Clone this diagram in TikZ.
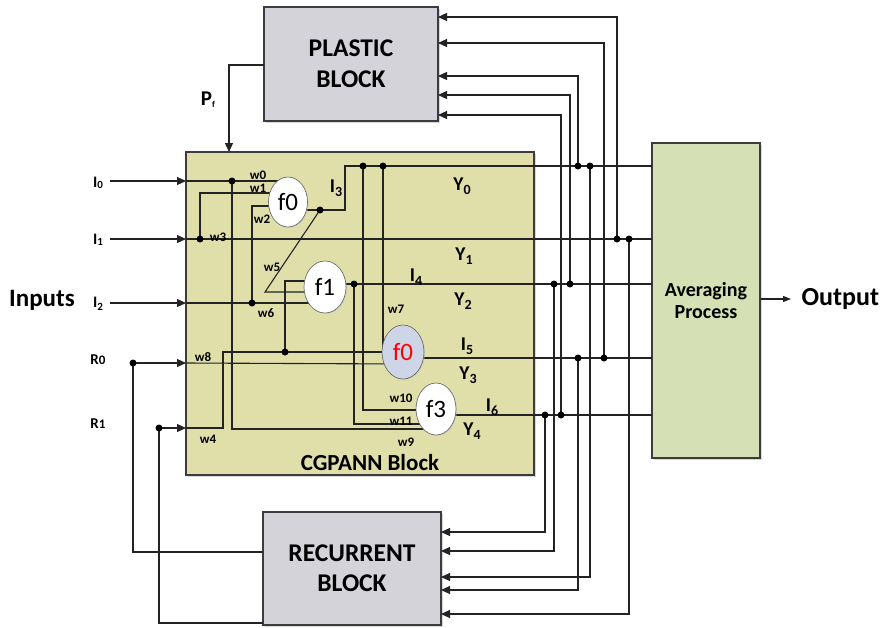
\documentclass[tikz,border=0pt]{standalone}
\usepackage{fontspec}
\setmainfont{Carlito}
\usetikzlibrary{arrows.meta,shapes.geometric,shadows}
\pgfdeclarelayer{back}
\pgfdeclarelayer{wires}
\pgfsetlayers{back,wires,main}
\definecolor{blockgray}{RGB}{211,211,217}
\definecolor{cgfill}{RGB}{224,223,170}
\definecolor{avgfill}{RGB}{213,224,180}
\definecolor{wirec}{RGB}{35,35,35}
\definecolor{bluefill}{RGB}{206,213,230}
\definecolor{edgec}{RGB}{60,60,60}
\newcommand{\subl}[4]{#1\raisebox{-#3}{\fontsize{#4}{#4}\selectfont #2}}
\begin{document}
\begin{tikzpicture}[x=1pt,y=-1pt,
  wire/.style={draw=wirec, line width=1.1pt},
  arr/.style={wire, -{Triangle[length=9pt,width=8pt]}},
  dotn/.style={circle, fill=black, inner sep=0pt, minimum size=7pt},
  fnode/.style={ellipse, draw=gray!75!black, line width=0.6pt, fill=white, minimum width=40pt, minimum height=52pt, inner sep=0pt, font=\fontsize{25}{25}\selectfont,
     drop shadow={shadow xshift=1pt, shadow yshift=-1pt, fill=black!25}},
  block/.style={draw=edgec, line width=1.1pt, inner sep=0pt, drop shadow={shadow xshift=2pt, shadow yshift=-2pt, fill=black!30}},
  wlab/.style={font=\bfseries\fontsize{13}{13}\selectfont},
  ylab/.style={font=\bfseries\fontsize{19.5}{19.5}\selectfont},
  inlab/.style={font=\bfseries\fontsize{16}{16}\selectfont},
]
\begin{pgfonlayer}{back}
\fill[white] (0,0) rectangle (886,627);
\end{pgfonlayer}
\useasboundingbox (0,0) rectangle (886,627);

% ---------- blocks ----------
\begin{pgfonlayer}{back}
\node[block, fill=blockgray, minimum width=174pt, minimum height=114pt, font=\bfseries\fontsize{25.5}{31}\selectfont, align=center] (pl) at (351,64) {PLASTIC\\BLOCK};
\node[block, fill=blockgray, minimum width=178pt, minimum height=113pt, font=\bfseries\fontsize{25.5}{30}\selectfont, align=center] (rec) at (352,568.5) {RECURRENT\\BLOCK};
\node[block, fill=cgfill, minimum width=348pt, minimum height=323pt] (cg) at (360,313.5) {};
\node[block, fill=avgfill, minimum width=108pt, minimum height=315pt, font=\bfseries\fontsize{20}{22}\selectfont, align=center] (avg) at (706,300.5) {Averaging\\Process};
\end{pgfonlayer}

% ---------- function nodes ----------
\node[fnode, minimum width=39pt, minimum height=50pt] (f0) at (288,202) {f0};
\node[fnode, minimum width=42pt] (f1) at (325,287) {f1};
\node[fnode, fill=bluefill, text=red, minimum width=42pt, minimum height=54pt] (f0r) at (403,352) {f0};
\node[fnode] (f3) at (436,409) {f3};

% ---------- coordinates ----------
\coordinate (i0a) at (110,181); \coordinate (e0) at (186,181);
\coordinate (i1a) at (110,239); \coordinate (e1) at (186,239);
\coordinate (i2a) at (110,303); \coordinate (e2) at (186,303);
\coordinate (r0d) at (133,363); \coordinate (e3) at (186,363);
\coordinate (r1d) at (159,428); \coordinate (e4) at (186,428);
\coordinate (d0) at (232,181); \coordinate (d1) at (200,239);
\coordinate (d2) at (252,303); \coordinate (d4) at (285,352);
\coordinate (k4) at (223,428);
\coordinate (a0) at (288,181); \coordinate (a1) at (288,193); \coordinate (a2) at (288,206);
\coordinate (b1) at (325,281); \coordinate (b2) at (325,292); \coordinate (b3) at (325,303);
\coordinate (kb) at (265,292);
\coordinate (c7) at (383,352); \coordinate (c1) at (403,352); \coordinate (c2) at (403,364);
\coordinate (g10) at (436,410); \coordinate (g11) at (436,424); \coordinate (g9) at (436,429);
\coordinate (q0) at (320,210); \coordinate (k0) at (345,210);
\coordinate (d5) at (363,166); \coordinate (d6) at (383,166);
\coordinate (o1) at (325,284); \coordinate (q1) at (354,284);
\coordinate (o2) at (403,358); \coordinate (o3) at (436,415);
\coordinate (y0e) at (652,166); \coordinate (y1e) at (652,239);
\coordinate (y2e) at (652,284); \coordinate (y3e) at (652,358);
\coordinate (y4e) at (652,415);
% taps on output lines
\coordinate (t01) at (578,166); \coordinate (t02) at (590,166);
\coordinate (t11) at (617,239); \coordinate (t12) at (629,239);
\coordinate (t21) at (554,284); \coordinate (t22) at (570,284);
\coordinate (t31) at (578,358); \coordinate (t32) at (604,358);
\coordinate (t41) at (545,415); \coordinate (t42) at (561,415);
% block ports
\coordinate (p1) at (438,17); \coordinate (p2) at (438,43); \coordinate (p3) at (438,76);
\coordinate (p4) at (438,95); \coordinate (p5) at (438,115);
\coordinate (s1) at (441,532); \coordinate (s2) at (441,551); \coordinate (s3) at (441,577);
\coordinate (s4) at (441,590); \coordinate (s5) at (441,614);
\coordinate (rb0) at (263,552); \coordinate (rb1) at (263,623);
\coordinate (pfo) at (264,65); \coordinate (pfi) at (229,152);
\coordinate (outa) at (791,299);

% ---------- wires ----------
\begin{pgfonlayer}{wires}
\draw[arr] (i0a) -- (e0);
\draw[arr] (i1a) -- (e1);
\draw[arr] (i2a) -- (e2);
\draw[arr] (r0d) -- (e3);
\draw[arr] (r1d) -- (e4);
\draw[wire] (r0d) |- (rb0);
\draw[wire] (r1d) |- (rb1);
\draw[arr] (pfo) -| (pfi);
% inside CGPANN
\draw[wire] (e0) -- (a0);
\draw[wire] (d0) |- (g9);
\draw[wire] (e1) -- (y1e);
\draw[wire] (d1) |- (a1);
\draw[wire] (e2) -- (b3);
\draw[wire] (d2) |- (a2);
\draw[wire] (e3) -- (c2);
\draw[wire] (e4) -- (k4) |- (c1);
\draw[wire] (d4) |- (b1);
\draw[wire] (f0.center |- q0) -- (q0) -- (k0) |- (y0e);
\draw[wire] (q0) -- (kb) -- (b2);
\draw[wire] (d5) |- (g10);
\draw[wire] (d6) -- (c7);
\draw[wire] (o1) -- (y2e);
\draw[wire] (q1) |- (g11);
\draw[wire] (o2) -- (y3e);
\draw[wire] (o3) -- (y4e);
% feedback to plastic block
\draw[arr] (t11) |- (p1);
\draw[arr] (t32) |- (p2);
\draw[arr] (t01) |- (p3);
\draw[arr] (t22) |- (p4);
\draw[arr] (t42) |- (p5);
% feedback to recurrent block
\draw[arr] (t41) |- (s1);
\draw[arr] (t21) |- (s2);
\draw[arr] (t02) |- (s3);
\draw[arr] (t31) |- (s4);
\draw[arr] (t12) |- (s5);
% output
\draw[wire, -{Triangle[length=8pt,width=6pt]}] (avg.east |- outa) -- (outa);
\end{pgfonlayer}

% ---------- dots ----------
\foreach \p in {d0,d1,d2,d4,q0,d5,d6,q1,r0d,r1d,t01,t02,t11,t12,t21,t22,t31,t32,t41,t42}
  \node[dotn] at (\p) {};

% ---------- labels ----------
\node[font=\bfseries\fontsize{25}{25}\selectfont] (inl) at (42,300) {Inputs};
\node[font=\bfseries\fontsize{26}{26}\selectfont, anchor=west] (outl) at (798,299) {Output};
\node[inlab] (li0) at (98,183) {\subl{I}{0}{1.5pt}{11}};
\node[inlab] (li1) at (98,240) {\subl{I}{1}{1.5pt}{11}};
\node[inlab] (li2) at (98,304) {\subl{I}{2}{3pt}{11}};
\node[font=\bfseries\fontsize{15}{15}\selectfont] (lr0) at (98,360) {R\fontsize{13}{13}\selectfont 0};
\node[font=\bfseries\fontsize{15}{15}\selectfont] (lr1) at (98,424) {R\fontsize{13}{13}\selectfont 1};
\node[font=\bfseries\fontsize{21}{21}\selectfont] (lpf) at (208,100) {P\raisebox{-2pt}{\fontsize{9}{9}\selectfont f}};
\node[font=\bfseries\fontsize{23}{23}\selectfont] (lcg) at (370,463) {CGPANN Block};

\node[ylab] at (336,188) {\subl{I}{3}{3.5pt}{14}};
\node[ylab] at (416,277) {\subl{I}{4}{3.5pt}{14}};
\node[ylab] at (467,346) {\subl{I}{5}{3.5pt}{14}};
\node[ylab] at (492,407) {\subl{I}{6}{3.5pt}{14}};
\node[ylab] at (462,186) {\subl{Y}{0}{3.5pt}{14}};
\node[ylab] at (464,256) {\subl{Y}{1}{3.5pt}{14}};
\node[ylab] at (463,301) {\subl{Y}{2}{3.5pt}{14}};
\node[ylab] at (468,375) {\subl{Y}{3}{3.5pt}{14}};
\node[ylab] at (472,431) {\subl{Y}{4}{3.5pt}{14}};

\node[wlab] at (258,175) {w0};
\node[wlab] at (258,188) {w1};
\node[wlab] at (262,219) {w2};
\node[wlab] at (218,237) {w3};
\node[wlab] at (272,267) {w5};
\node[wlab] at (266,313) {w6};
\node[wlab] at (396,309) {w7};
\node[wlab] at (203,357) {w8};
\node[wlab] at (208,439) {w4};
\node[wlab] at (401,398) {w10};
\node[wlab] at (401,421) {w11};
\node[wlab] at (406,442) {w9};
\end{tikzpicture}
\end{document}
